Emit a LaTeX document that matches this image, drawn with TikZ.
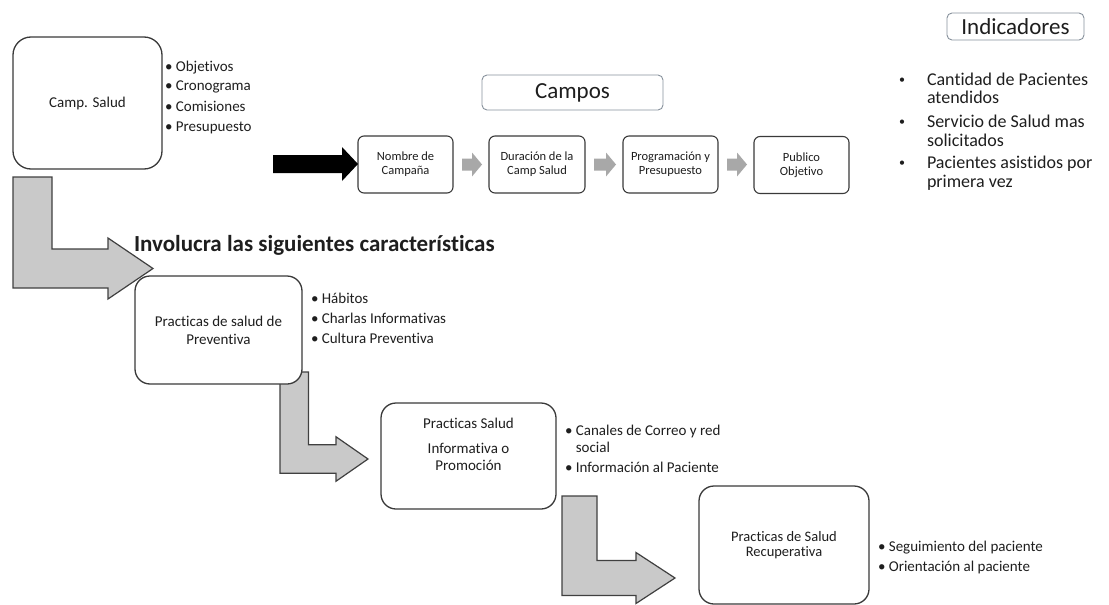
\documentclass[tikz,border=0pt]{standalone}
\usepackage{fontspec}
\setmainfont{Carlito}[Ligatures=NoCommon]
\usetikzlibrary{calc}

\definecolor{ink}{HTML}{1E1E1E}
\definecolor{boxline}{HTML}{3A3A3A}
\definecolor{softline}{HTML}{87919C}
\definecolor{bendfill}{HTML}{C9C9C9}
\definecolor{bendline}{HTML}{404040}
\definecolor{stepfill}{HTML}{A8A8A8}

\newcommand\fsz[2]{\fontsize{#1}{#2}\selectfont}

\pgfdeclarelayer{bg}
\pgfsetlayers{bg,main}

% L-shaped block arrow: #1 top-left corner of the vertical bar, #2 tip,
% #3 bar thickness, #4 head overhang, #5 head length
\newcommand\bentarrow[5]{%
  \filldraw[bendarrow] let \p1=(#1), \p2=(#2) in
    (\x1,\y1) -- (\x1+#3,\y1) -- (\x1+#3,\y2+#3/2) -- (\x2-#5,\y2+#3/2)
    -- (\x2-#5,\y2+#3/2+#4) -- (\x2,\y2) -- (\x2-#5,\y2-#3/2-#4)
    -- (\x2-#5,\y2-#3/2) -- (\x1,\y2-#3/2) -- cycle;}

% straight block arrow: #1 tail, #2 tip, #3 shaft half height,
% #4 head half height, #5 head length, #6 fill colour
\newcommand\blockarrow[6]{%
  \fill[#6] let \p1=(#1), \p2=(#2) in
    (\x1,\y1+#3) -- (\x2-#5,\y1+#3) -- (\x2-#5,\y1+#4) -- (\x2,\y1)
    -- (\x2-#5,\y1-#4) -- (\x2-#5,\y1-#3) -- (\x1,\y1-#3) -- cycle;}

\tikzset{
  every node/.style={text=ink, inner sep=0pt, outer sep=0pt},
  bigbox/.style={draw=boxline, line width=1.3pt, fill=white,
    rounded corners=15pt, align=center, font=\fsz{15}{18}},
  stepbox/.style={draw=boxline, line width=1.1pt, fill=white,
    rounded corners=6pt, minimum width=95pt, minimum height=57pt,
    align=center, font=\fsz{12.5}{14}},
  titlebox/.style={draw=softline, line width=0.9pt, fill=white,
    rounded corners=5pt, font=\fsz{23}{26}},
  bulletlist/.style={anchor=west, align=left, font=\fsz{15}{20}},
  dotmark/.style={font=\fsz{12}{12}},
  bendarrow/.style={fill=bendfill, draw=bendline, line width=1.2pt,
    line join=miter},
}

\begin{document}
\begin{tikzpicture}[x=1pt, y=-1pt]
\useasboundingbox (0,0) rectangle (1109,605);

% main blocks
\node[bigbox, rounded corners=18pt, minimum width=149pt, minimum height=132pt]
  (camp) at (87.5,103) {Camp. Salud};
\node[bulletlist] (camplist) at (165,97)
  {• Objetivos\\• Cronograma\\• Comisiones\\• Presupuesto};

% fields row
\node[titlebox, minimum width=181pt, minimum height=35pt] (campos) at (572.5,92.5) {Campos};
\node[stepbox] (nombre) at (405.5,164.5) {Nombre de\\Campaña};
\node[stepbox, minimum width=96pt] (duracion) at (537,164.5) {Duración de la\\Camp Salud};
\node[stepbox] (progra) at (670.5,164.5) {Programación y\\Presupuesto};
\node[stepbox] (publico) at (801.5,165) {Publico\\Objetivo};

% indicators
\node[titlebox, minimum width=137pt, minimum height=27pt] (indic) at (1015.5,26.5) {Indicadores};
\node[dotmark] (b1) at (902,81) {•};
\node[dotmark] (b2) at (902,123) {•};
\node[dotmark] (b3) at (902,164) {•};
\begin{scope}[every node/.append style={font=\fsz{18}{18.5}}]
  \node[anchor=west, align=left] (i1) at (927,88.5) {Cantidad de Pacientes\\atendidos};
  \node[anchor=west, align=left] (i2) at (927,131) {Servicio de Salud mas\\solicitados};
  \node[anchor=west, align=left] (i3) at (927,173) {Pacientes asistidos por\\primera vez};
\end{scope}

% heading
\node[anchor=west, font=\fsz{23}{27}\bfseries] (head) at (134,245)
  {Involucra las siguientes características};

% practice stages
\node[bigbox, minimum width=167pt, minimum height=108pt] (prev) at (218.5,330)
  {Practicas de salud de\\Preventiva};
\node[bulletlist] (prevlist) at (311,318)
  {• Hábitos\\• Charlas Informativas\\• Cultura Preventiva};

\node[bigbox, minimum width=175pt, minimum height=106pt] (info) at (468.5,456) {};
\node[align=center, font=\fsz{15}{17}] (infotext) at (468.5,444)
  {Practicas Salud\\[8pt]Informativa o\\Promoción};
\node[bulletlist, font=\fsz{15}{17}] (infolist) at (565,448.5)
  {• Canales de Correo y red\\\hphantom{• }social\\[3pt]• Información al Paciente};

\node[bigbox, minimum width=170pt, minimum height=118pt, font=\fsz{14.5}{15.5}]
  (recu) at (784,545) {Practicas de Salud\\Recuperativa};
\node[bulletlist] (reculist) at (878,557)
  {• Seguimiento del paciente\\• Orientación al paciente};

% connectors
\coordinate (feed) at (273,164);
\coordinate (a1top) at ($(camp.south west)+(0,8)$);
\coordinate (a1tip) at ($(prev.north west)+(18,-7.5)$);
\coordinate (a2top) at ($(prev.south east)+(-22,-12)$);
\coordinate (a2tip) at ($(info.west)+(-13,3)$);
\coordinate (a3top) at ($(info.south east)+(6,-13)$);
\coordinate (a3tip) at ($(recu.west)+(-24,33)$);

\begin{pgfonlayer}{bg}
  \bentarrow{a1top}{a1tip}{39pt}{11pt}{45pt}
  \bentarrow{a2top}{a2tip}{28.5pt}{8pt}{32pt}
  \bentarrow{a3top}{a3tip}{35pt}{8pt}{39pt}
\end{pgfonlayer}

\blockarrow{feed}{nombre.west}{9pt}{17pt}{16pt}{black}
\blockarrow{$(nombre.east)+(9,0)$}{$(duracion.west)+(-7,0)$}{6pt}{12pt}{10pt}{stepfill}
\blockarrow{$(duracion.east)+(9,0)$}{$(progra.west)+(-7,0)$}{6pt}{12pt}{10pt}{stepfill}
\blockarrow{$(progra.east)+(9,0)$}{$(publico.west)+(-7,0)$}{6pt}{12pt}{10pt}{stepfill}
\end{tikzpicture}
\end{document}
